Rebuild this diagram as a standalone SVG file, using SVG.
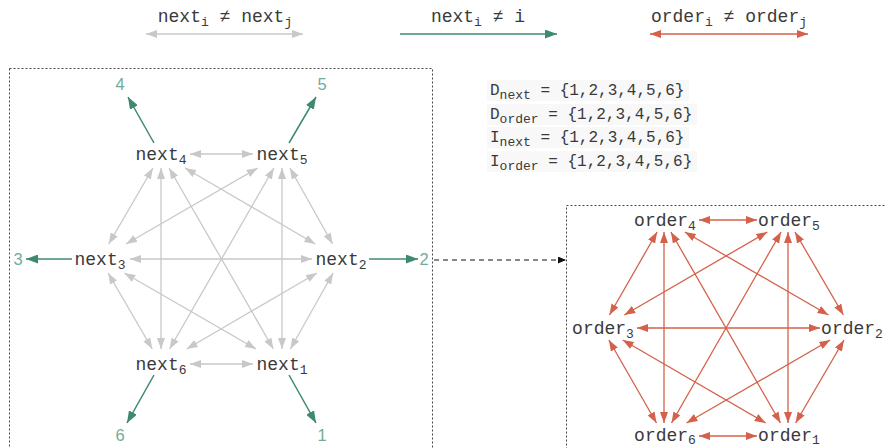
<svg xmlns="http://www.w3.org/2000/svg" width="885" height="448" viewBox="0 0 885 448">
  <style>
    .mono { font-family: "Liberation Mono", "Courier New", monospace; fill: #3a3a3a; }
    .node { font-size: 18px; text-anchor: middle; }
    .sub { font-size: 13px; }
    .eq { font-size: 16px; }
    .num { font-family: "Liberation Sans", Arial, sans-serif; font-size: 16.5px; fill: #72ad98; text-anchor: middle; }
    .g { stroke: #c8c8c8; stroke-width: 1.3; fill: none; marker-start: url(#ahGray); marker-end: url(#ahGray); }
    .r { stroke: #d4614a; stroke-width: 1.3; fill: none; marker-start: url(#ahRed); marker-end: url(#ahRed); }
    .t { stroke: #3e8a6e; stroke-width: 1.5; fill: none; marker-end: url(#ahGreen); }
    .frame { fill: none; stroke: #444; stroke-width: 1; stroke-dasharray: 2 2; }
    .eqbg { fill: #f8f8f8; }
  </style>
  <defs>
    <marker id="ahGray" markerUnits="userSpaceOnUse" markerWidth="11" markerHeight="8" refX="11" refY="4" orient="auto-start-reverse">
      <path d="M0,0 L11,4 L0,8 z" fill="#c8c8c8"/>
    </marker>
    <marker id="ahRed" markerUnits="userSpaceOnUse" markerWidth="11" markerHeight="8" refX="11" refY="4" orient="auto-start-reverse">
      <path d="M0,0 L11,4 L0,8 z" fill="#d4614a"/>
    </marker>
    <marker id="ahGreen" markerUnits="userSpaceOnUse" markerWidth="12" markerHeight="9" refX="12" refY="4.5" orient="auto">
      <path d="M0,0 L12,4.5 L0,9 z" fill="#3e8a6e"/>
    </marker>
    <marker id="ahBlack" markerUnits="userSpaceOnUse" markerWidth="8" markerHeight="7" refX="8" refY="3.5" orient="auto">
      <path d="M0,0 L8,3.5 L0,7 z" fill="#111"/>
    </marker>
  </defs>

  <rect width="885" height="448" fill="#ffffff"/>

  <!-- legend -->
  <g id="legend">
    <text class="mono node" x="225" y="22">next<tspan class="sub" dy="4">i</tspan><tspan dy="-4"> ≠ next</tspan><tspan class="sub" dy="4">j</tspan></text>
    <line class="g" x1="146" y1="34" x2="303" y2="34"/>
    <text class="mono node" x="478" y="22">next<tspan class="sub" dy="4">i</tspan><tspan dy="-4"> ≠ i</tspan></text>
    <line class="t" x1="400" y1="34" x2="557" y2="34"/>
    <text class="mono node" x="729" y="22">order<tspan class="sub" dy="4">i</tspan><tspan dy="-4"> ≠ order</tspan><tspan class="sub" dy="4">j</tspan></text>
    <line class="r" x1="650" y1="34" x2="808" y2="34"/>
  </g>

  <!-- domain sets -->
  <g id="domains">
    <rect class="eqbg" x="487" y="80" width="202" height="21"/>
    <rect class="eqbg" x="487" y="104" width="210" height="21"/>
    <rect class="eqbg" x="487" y="127" width="202" height="21"/>
    <rect class="eqbg" x="487" y="151" width="210" height="21"/>
    <text class="mono eq" x="490" y="95">D<tspan class="sub" dy="4">next</tspan><tspan dy="-4"> = {1,2,3,4,5,6}</tspan></text>
    <text class="mono eq" x="490" y="119">D<tspan class="sub" dy="4">order</tspan><tspan dy="-4"> = {1,2,3,4,5,6}</tspan></text>
    <text class="mono eq" x="490" y="142">I<tspan class="sub" dy="4">next</tspan><tspan dy="-4"> = {1,2,3,4,5,6}</tspan></text>
    <text class="mono eq" x="490" y="166">I<tspan class="sub" dy="4">order</tspan><tspan dy="-4"> = {1,2,3,4,5,6}</tspan></text>
  </g>

  <!-- frames -->
  <rect class="frame" x="9.5" y="68.5" width="423" height="400"/>
  <rect class="frame" x="566.5" y="205.5" width="340" height="300"/>

  <!-- connectors -->
  <g id="connectors">
    <!-- next graph: all-different -->
    <line class="g" x1="190" y1="154" x2="253" y2="154"/>
    <line class="g" x1="190" y1="364" x2="253" y2="364"/>
    <line class="g" x1="130" y1="259" x2="312" y2="259"/>
    <line class="g" x1="161" y1="168" x2="161" y2="349"/>
    <line class="g" x1="282" y1="168" x2="282" y2="349"/>
    <line class="g" x1="152.9" y1="168" x2="108.7" y2="244"/>
    <line class="g" x1="289.9" y1="168" x2="332.6" y2="244"/>
    <line class="g" x1="108.1" y1="273" x2="152.3" y2="349"/>
    <line class="g" x1="333.1" y1="273" x2="290.4" y2="349"/>
    <line class="g" x1="185" y1="168" x2="315.3" y2="244"/>
    <line class="g" x1="257.7" y1="168" x2="126" y2="244"/>
    <line class="g" x1="124.3" y1="273" x2="256" y2="349"/>
    <line class="g" x1="317" y1="273" x2="186.7" y2="349"/>
    <line class="g" x1="169.1" y1="168" x2="273.4" y2="349"/>
    <line class="g" x1="273.9" y1="168" x2="169.6" y2="349"/>

    <!-- next graph: no self-loop -->
    <line class="t" x1="154" y1="143" x2="128" y2="97"/>
    <line class="t" x1="289" y1="143" x2="316" y2="97"/>
    <line class="t" x1="72" y1="259" x2="26" y2="259"/>
    <line class="t" x1="369" y1="259" x2="418" y2="259"/>
    <line class="t" x1="154" y1="375" x2="127" y2="423"/>
    <line class="t" x1="289" y1="375" x2="316" y2="423"/>

    <!-- hand-over between the two models -->
    <line x1="434" y1="260" x2="566" y2="260" stroke="#111" stroke-width="1" stroke-dasharray="5 4" marker-end="url(#ahBlack)"/>

    <!-- order graph: all-different -->
    <line class="r" x1="699" y1="220" x2="757" y2="220"/>
    <line class="r" x1="699" y1="436" x2="757" y2="436"/>
    <line class="r" x1="637" y1="328" x2="820" y2="328"/>
    <line class="r" x1="664" y1="232" x2="664" y2="423"/>
    <line class="r" x1="788" y1="232" x2="788" y2="423"/>
    <line class="r" x1="657.1" y1="232" x2="609.5" y2="315"/>
    <line class="r" x1="795" y1="232" x2="843.4" y2="315"/>
    <line class="r" x1="608.9" y1="340" x2="656.5" y2="423"/>
    <line class="r" x1="844" y1="340" x2="795.6" y2="423"/>
    <line class="r" x1="684.8" y1="232" x2="828.5" y2="315"/>
    <line class="r" x1="767.3" y1="232" x2="624.3" y2="315"/>
    <line class="r" x1="622.7" y1="340" x2="765.7" y2="423"/>
    <line class="r" x1="830.2" y1="340" x2="686.5" y2="423"/>
    <line class="r" x1="670.9" y1="232" x2="780.5" y2="423"/>
    <line class="r" x1="781.1" y1="232" x2="671.5" y2="423"/>
  </g>

  <!-- next variables -->
  <g id="next1"><text class="mono node" x="282" y="370">next<tspan class="sub" dy="4">1</tspan></text></g>
  <g id="next2"><text class="mono node" x="341" y="265">next<tspan class="sub" dy="4">2</tspan></text></g>
  <g id="next3"><text class="mono node" x="100" y="265">next<tspan class="sub" dy="4">3</tspan></text></g>
  <g id="next4"><text class="mono node" x="161" y="160">next<tspan class="sub" dy="4">4</tspan></text></g>
  <g id="next5"><text class="mono node" x="282" y="160">next<tspan class="sub" dy="4">5</tspan></text></g>
  <g id="next6"><text class="mono node" x="161" y="370">next<tspan class="sub" dy="4">6</tspan></text></g>

  <!-- excluded values -->
  <g id="val1"><text class="num" x="322" y="441">1</text></g>
  <g id="val2"><text class="num" x="424" y="265">2</text></g>
  <g id="val3"><text class="num" x="18" y="265">3</text></g>
  <g id="val4"><text class="num" x="120" y="90">4</text></g>
  <g id="val5"><text class="num" x="322" y="90">5</text></g>
  <g id="val6"><text class="num" x="120" y="441">6</text></g>

  <!-- order variables -->
  <g id="order1"><text class="mono node" x="789" y="441">order<tspan class="sub" dy="3">1</tspan></text></g>
  <g id="order2"><text class="mono node" x="852" y="334">order<tspan class="sub" dy="4">2</tspan></text></g>
  <g id="order3"><text class="mono node" x="603" y="334">order<tspan class="sub" dy="4">3</tspan></text></g>
  <g id="order4"><text class="mono node" x="665" y="226">order<tspan class="sub" dy="4">4</tspan></text></g>
  <g id="order5"><text class="mono node" x="789" y="226">order<tspan class="sub" dy="4">5</tspan></text></g>
  <g id="order6"><text class="mono node" x="665" y="441">order<tspan class="sub" dy="3">6</tspan></text></g>
</svg>
